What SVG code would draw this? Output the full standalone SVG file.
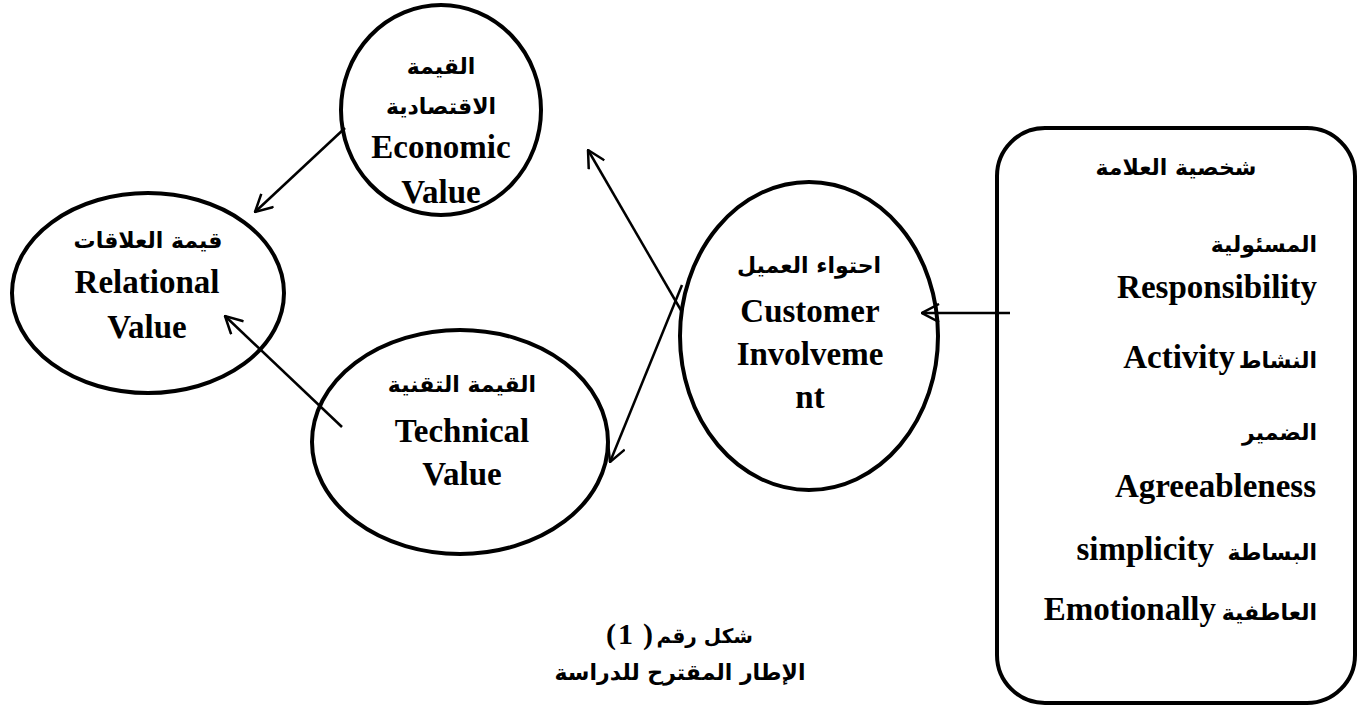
<svg xmlns="http://www.w3.org/2000/svg" width="1371" height="713" viewBox="0 0 1371 713">
<style>
.shape{fill:#fff;stroke:#000;stroke-width:4}
.conn{stroke:#000;stroke-width:2.5;fill:none}
.en{font-family:"Liberation Serif","DejaVu Sans",serif;font-weight:bold;font-size:33px;fill:#000}
.ar{font-family:"DejaVu Sans","Liberation Sans",sans-serif;font-weight:bold;font-size:22px;fill:#000}
.c{text-anchor:middle}
.e{text-anchor:end}
</style>
<defs>
<marker id="arr" viewBox="0 0 20 20" refX="19" refY="10" markerWidth="20" markerHeight="20" markerUnits="userSpaceOnUse" orient="auto">
<path d="M2,1 L19,10 L2,19" fill="none" stroke="#000" stroke-width="2.5"/>
</marker>
</defs>
<g id="economic">
<ellipse class="shape" cx="441" cy="110" rx="100" ry="105"/>
<text class="ar c" x="441" y="74">القيمة</text>
<text class="ar c" x="441" y="114">الاقتصادية</text>
<text class="en c" x="441" y="158">Economic</text>
<text class="en c" x="441" y="203">Value</text>
</g>
<g id="relational">
<ellipse class="shape" cx="148" cy="293" rx="136" ry="100"/>
<text class="ar c" x="148" y="248">قيمة العلاقات</text>
<text class="en c" x="147" y="293">Relational</text>
<text class="en c" x="147" y="338">Value</text>
</g>
<g id="technical">
<ellipse class="shape" cx="460" cy="442" rx="148" ry="112"/>
<text class="ar c" x="462" y="392">القيمة التقنية</text>
<text class="en c" x="462" y="442">Technical</text>
<text class="en c" x="462" y="485">Value</text>
</g>
<g id="customer">
<ellipse class="shape" cx="809" cy="336" rx="129" ry="154"/>
<text class="ar c" x="809" y="273">احتواء العميل</text>
<text class="en c" x="810" y="322">Customer</text>
<text class="en c" x="810" y="365">Involveme</text>
<text class="en c" x="810" y="408">nt</text>
</g>
<g id="brand">
<rect class="shape" x="997" y="128" width="358" height="575" rx="48" ry="48"/>
<text class="ar c" x="1176" y="175">شخصية العلامة</text>
<text class="ar e" x="1317" y="252">المسئولية</text>
<text class="en e" x="1317" y="298">Responsibility</text>
<text class="ar e" x="1317" y="368">النشاط</text>
<text class="en e" x="1235" y="368">Activity</text>
<text class="ar e" x="1317" y="440">الضمير</text>
<text class="en e" x="1316" y="497">Agreeableness</text>
<text class="ar e" x="1317" y="560">البساطة</text>
<text class="en e" x="1214" y="560">simplicity</text>
<text class="ar e" x="1317" y="620">العاطفية</text>
<text class="en e" x="1216" y="620">Emotionally</text>
</g>
<g id="caption">
<text class="en" y="644" style="font-size:30px"><tspan x="606">(</tspan><tspan x="618">1</tspan><tspan x="643">)</tspan></text>
<text class="ar e" x="753" y="643" style="font-size:20px">شكل رقم</text>
<text class="ar c" x="680" y="680">الإطار المقترح للدراسة</text>
</g>
<g id="connectors">
<line class="conn" x1="1010" y1="313" x2="922" y2="313" marker-end="url(#arr)"/>
<line class="conn" x1="682" y1="312" x2="588" y2="150" marker-end="url(#arr)"/>
<line class="conn" x1="682" y1="285" x2="610" y2="462" marker-end="url(#arr)"/>
<line class="conn" x1="345" y1="128" x2="255" y2="212" marker-end="url(#arr)"/>
<line class="conn" x1="342" y1="427" x2="225" y2="316" marker-end="url(#arr)"/>
</g>
</svg>
